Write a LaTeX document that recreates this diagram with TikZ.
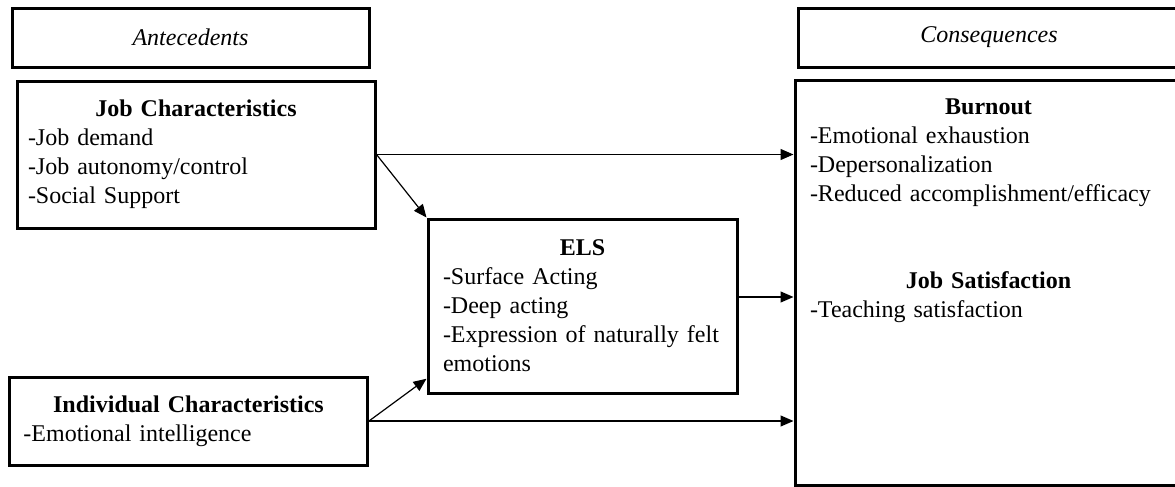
\documentclass[tikz,border=0pt]{standalone}
\usepackage{fontspec}
\setmainfont{Liberation Serif}
\usetikzlibrary{arrows.meta}

\begin{document}
\begin{tikzpicture}[x=0.5pt,y=-0.5pt,
	box/.style={draw,line width=1.5pt,rectangle,inner sep=0pt},
	txt/.style={align=left,inner sep=0pt,font=\fontsize{12}{14.5}\selectfont},
	link/.style={line width=0.6pt,-{Triangle[length=6.5pt,width=5.5pt]}}]
	\useasboundingbox (0,0) rectangle (1175,487);
	\clip (0,0) rectangle (1175,487);
	\node[box,minimum width=178.5pt,minimum height=29.5pt,font=\fontsize{12}{14.5}\selectfont\itshape] (ante) at (190.5,37.5) {Antecedents};
	\node[box,minimum width=191pt,minimum height=29.5pt,font=\fontsize{12}{14.5}\selectfont\itshape] (cons) at (989,37.5) {Consequences};
	\node[box,txt,text width=168pt,inner xsep=5.5pt,minimum height=73.5pt] (jobc) at (196,154.5) {{\centering\bfseries Job Characteristics\par}-Job demand\\-Job autonomy/control\\-Social Support};
	\node[box,txt,text width=165pt,inner xsep=7pt,minimum height=44pt] (indiv) at (188.5,421) {{\centering\bfseries Individual Characteristics\par}-Emotional intelligence};
	\node[box,txt,text width=139.5pt,inner xsep=7.5pt,minimum height=87pt] (els) at (582.5,306) {{\centering\bfseries ELS\par}-Surface Acting\\-Deep acting\\-Expression of naturally felt\\emotions};
	\node[box,minimum width=193.5pt,minimum height=202.5pt] (outc) at (988.5,282.5) {};
	\node[txt,text width=178.5pt] (burn) at (988.5,152.5) {{\centering\bfseries Burnout\par}-Emotional exhaustion\\-Depersonalization\\-Reduced accomplishment/efficacy};
	\node[txt,text width=178.5pt] (jsat) at (988.5,297) {{\centering\bfseries Job Satisfaction\par}-Teaching satisfaction};
	\draw[link] (jobc.east) -- (jobc.east -| outc.west);
	\draw[link] (jobc.east) -- (els.north west);
	\draw[link] (els.east |- jsat) -- (outc.west |- jsat);
	\draw[link] (indiv.east) -- (els.205);
	\draw[link] (indiv.east) -- (indiv.east -| outc.west);
\end{tikzpicture}
\end{document}
